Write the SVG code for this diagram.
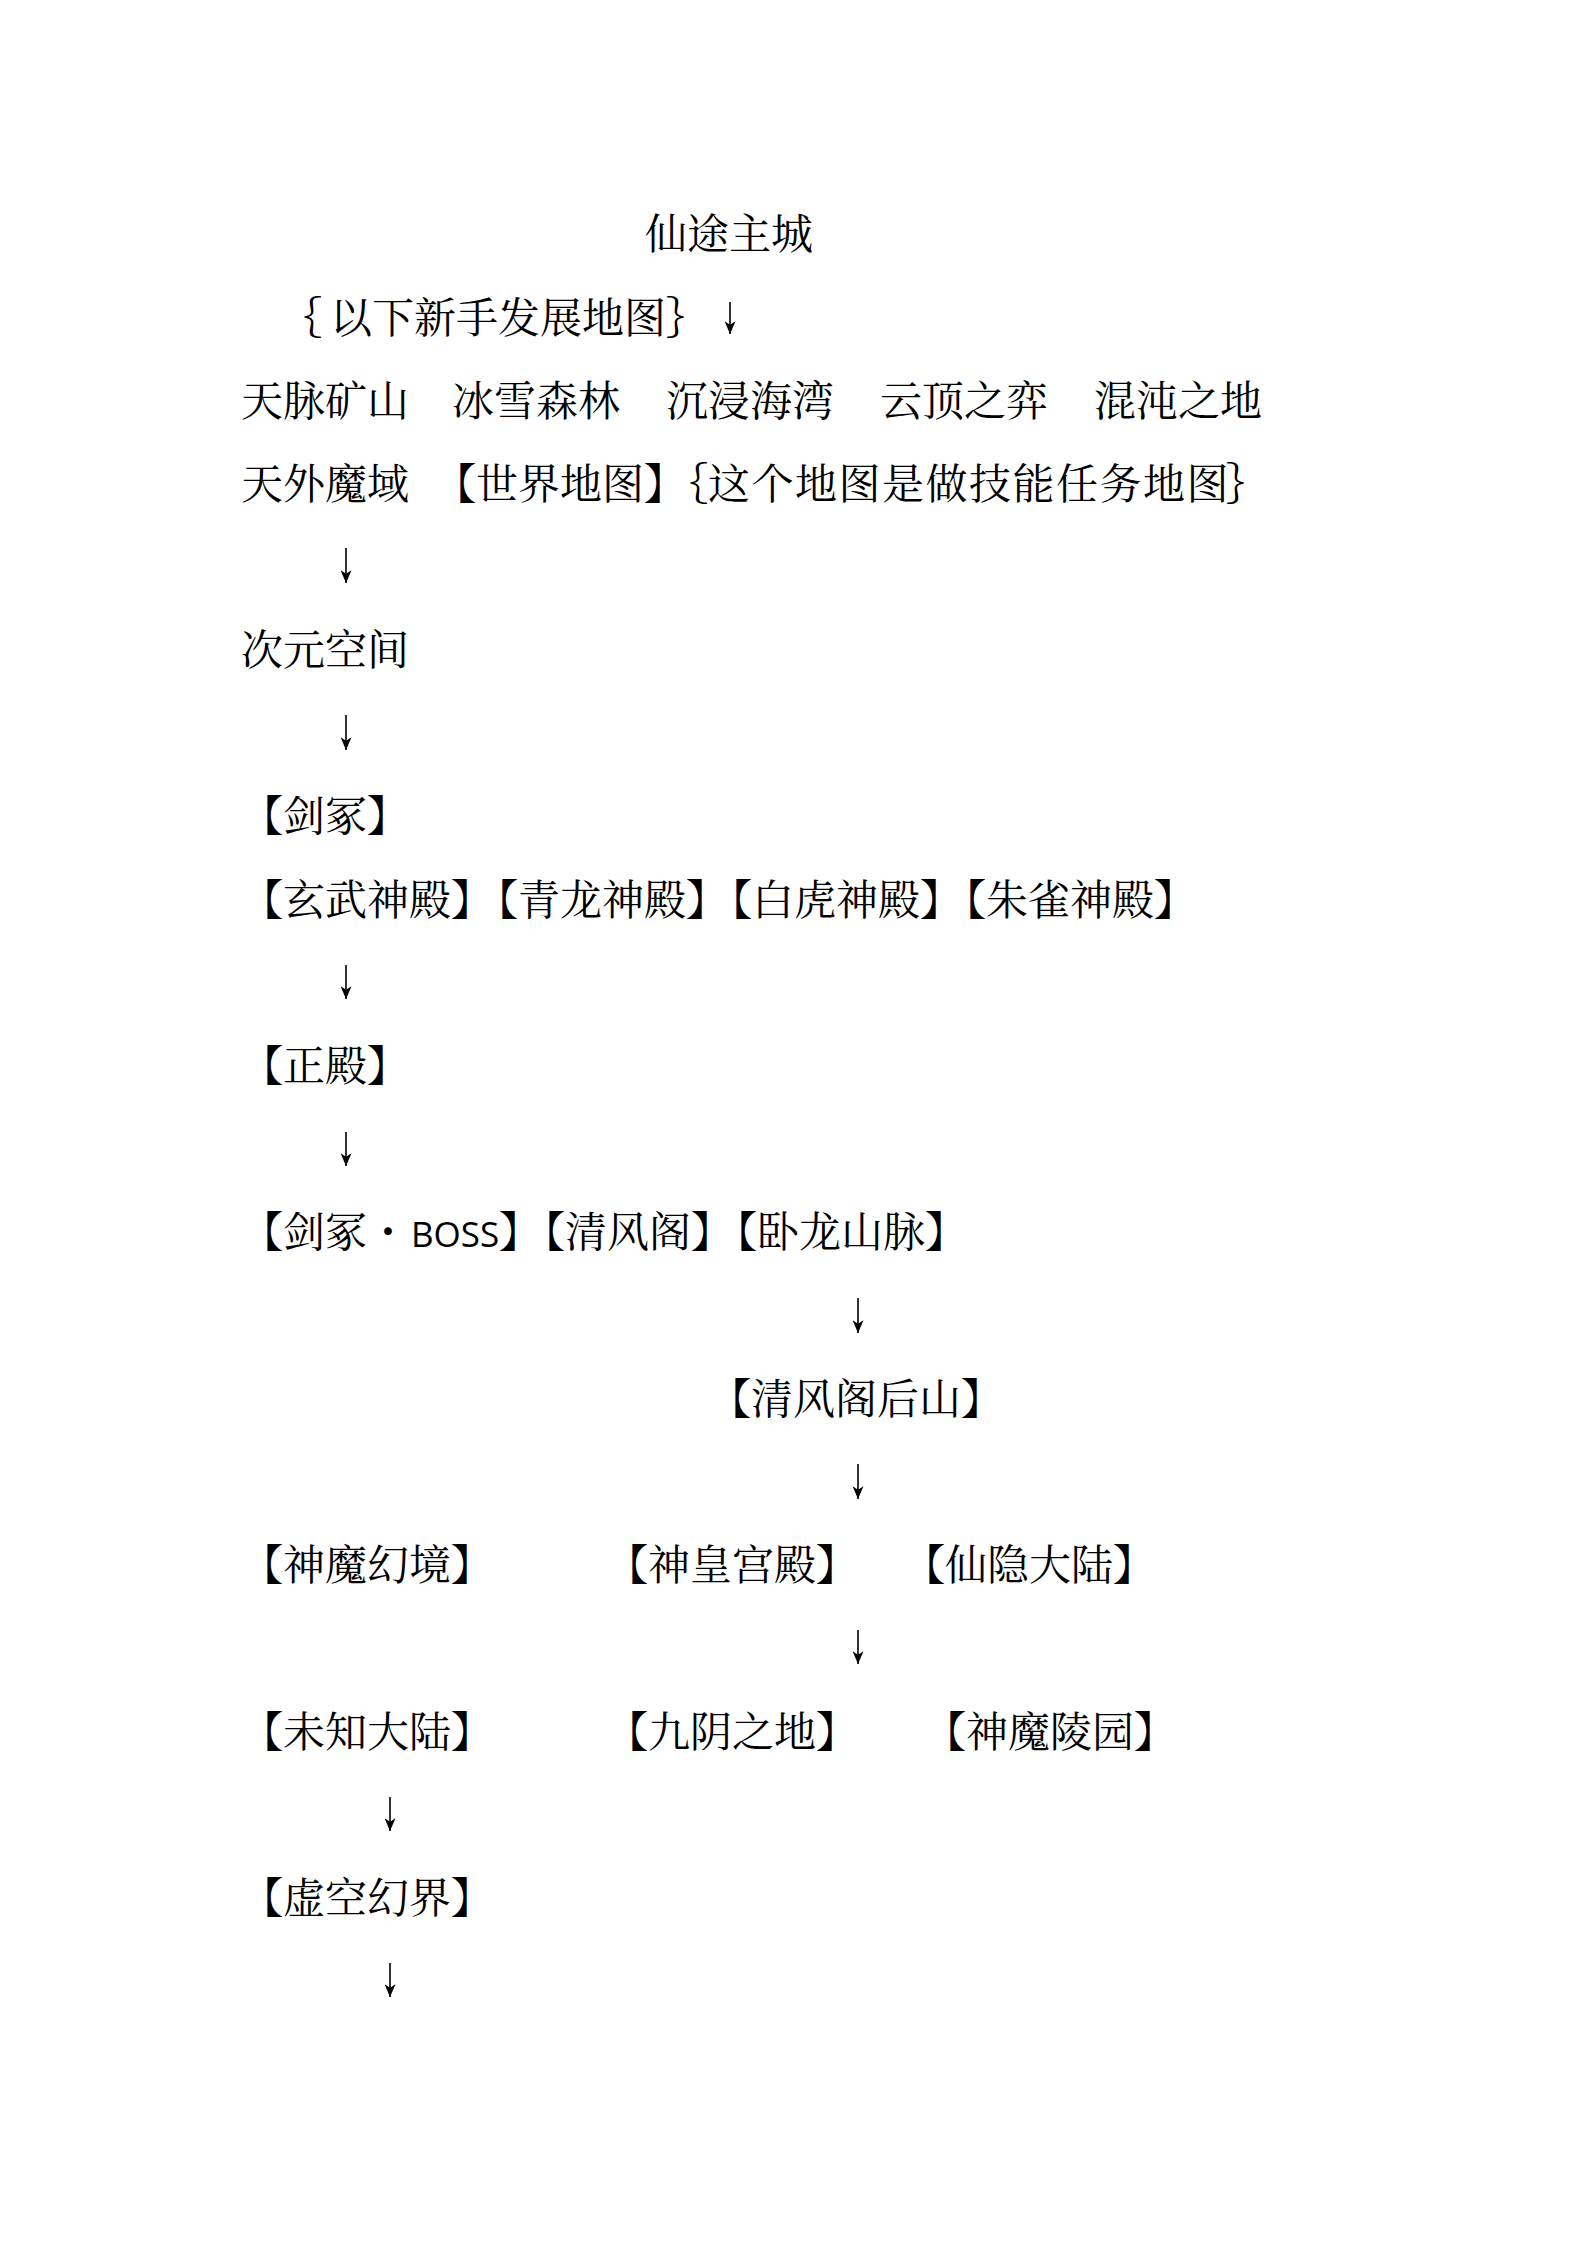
<svg xmlns="http://www.w3.org/2000/svg" width="1587" height="2245" viewBox="0 0 1587 2245">
<style>
.t{font-family:'Noto Serif CJK SC','Noto Sans CJK SC',serif;font-size:42px;fill:#000}
.b{font-weight:700}
.c{letter-spacing:-21px}
.lat{font-family:'Open Sans','Liberation Sans',sans-serif;font-size:35px}
.arr{stroke:#000;stroke-width:1.6;fill:none;marker-end:url(#ah)}
</style>
<defs>
<marker id="ah" viewBox="0 0 14 12" refX="14" refY="6" markerWidth="14" markerHeight="11" markerUnits="userSpaceOnUse" orient="auto">
<path d="M0,0 L14,6 L0,12 L4,6 Z" fill="#000"/>
</marker>
</defs>
<rect width="1587" height="2245" fill="#fff"/>
<g id="n-main-city"><text class="t" x="645" y="249">仙途主城</text></g>
<g id="n-newbie"><text class="t" x="280 330" y="333">｛以下新手发展地图｝</text></g>
<g id="n-tianmai"><text class="t" x="241" y="416">天脉矿山</text></g>
<g id="n-bingxue"><text class="t" x="452" y="416">冰雪森林</text></g>
<g id="n-chenjin"><text class="t" x="666" y="416">沉浸海湾</text></g>
<g id="n-yunding"><text class="t" x="880" y="416">云顶之弈</text></g>
<g id="n-hundun"><text class="t" x="1094" y="416">混沌之地</text></g>
<g id="n-tianwai"><text class="t" x="241" y="499">天外魔域</text></g>
<g id="n-world"><text class="t" x="434" y="499"><tspan class="b">【</tspan>世界地图<tspan class="b c">】</tspan></text></g>
<g id="n-skill-note"><text class="t" x="666 708 751.5 795 838.5 882 925.5 969 1012.5 1056 1099.5 1143 1186.5 1226" y="499">｛这个地图是做技能任务地图｝</text></g>
<g id="n-ciyuan"><text class="t" x="241" y="665">次元空间</text></g>
<g id="n-jianzhong"><text class="t" x="241" y="831"><tspan class="b">【</tspan>剑冢<tspan class="b">】</tspan></text></g>
<g id="n-xuanwu"><text class="t" x="241" y="915"><tspan class="b">【</tspan>玄武神殿<tspan class="b c">】</tspan></text></g>
<g id="n-qinglong"><text class="t" x="476" y="915"><tspan class="b">【</tspan>青龙神殿<tspan class="b c">】</tspan></text></g>
<g id="n-baihu"><text class="t" x="710" y="915"><tspan class="b">【</tspan>白虎神殿<tspan class="b c">】</tspan></text></g>
<g id="n-zhuque"><text class="t" x="944" y="915"><tspan class="b">【</tspan>朱雀神殿<tspan class="b">】</tspan></text></g>
<g id="n-zhengdian"><text class="t" x="241" y="1081"><tspan class="b">【</tspan>正殿<tspan class="b">】</tspan></text></g>
<g id="n-jz-boss"><text class="t" x="241" y="1247"><tspan class="b">【</tspan>剑冢・<tspan class="lat" x="411">BOSS</tspan><tspan class="b c" x="499">】</tspan></text></g>
<g id="n-qingfeng"><text class="t" x="523" y="1247"><tspan class="b">【</tspan>清风阁<tspan class="b c">】</tspan></text></g>
<g id="n-wolong"><text class="t" x="715" y="1247"><tspan class="b">【</tspan>卧龙山脉<tspan class="b">】</tspan></text></g>
<g id="n-houshan"><text class="t" x="709" y="1414"><tspan class="b">【</tspan>清风阁后山<tspan class="b">】</tspan></text></g>
<g id="n-shenmo-hj"><text class="t" x="241" y="1580"><tspan class="b">【</tspan>神魔幻境<tspan class="b">】</tspan></text></g>
<g id="n-shenhuang"><text class="t" x="606" y="1580"><tspan class="b">【</tspan>神皇宫殿<tspan class="b">】</tspan></text></g>
<g id="n-xianyin"><text class="t" x="903" y="1580"><tspan class="b">【</tspan>仙隐大陆<tspan class="b">】</tspan></text></g>
<g id="n-weizhi"><text class="t" x="241" y="1747"><tspan class="b">【</tspan>未知大陆<tspan class="b">】</tspan></text></g>
<g id="n-jiuyin"><text class="t" x="606" y="1747"><tspan class="b">【</tspan>九阴之地<tspan class="b">】</tspan></text></g>
<g id="n-lingyuan"><text class="t" x="924" y="1747"><tspan class="b">【</tspan>神魔陵园<tspan class="b">】</tspan></text></g>
<g id="n-xukong"><text class="t" x="241" y="1913"><tspan class="b">【</tspan>虚空幻界<tspan class="b">】</tspan></text></g>
<g id="connectors">
<path class="arr" d="M730,302 V334"/>
<path class="arr" d="M346,548 V583"/>
<path class="arr" d="M346,715 V750"/>
<path class="arr" d="M346,965 V999"/>
<path class="arr" d="M346,1132 V1166"/>
<path class="arr" d="M858,1298 V1333"/>
<path class="arr" d="M858,1464 V1499"/>
<path class="arr" d="M858,1630 V1664"/>
<path class="arr" d="M390,1797 V1831"/>
<path class="arr" d="M390,1963 V1997"/>
</g>
</svg>
